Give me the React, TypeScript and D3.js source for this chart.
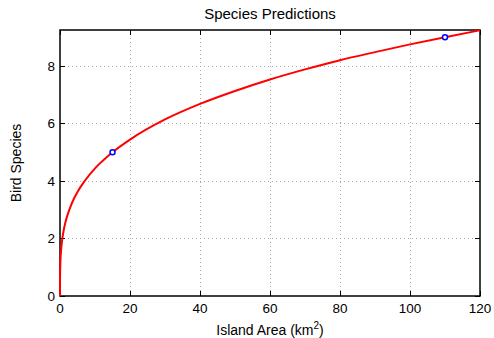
import React, { useRef, useEffect } from 'react';
import * as d3 from 'd3';

// curve (area km^2 -> species)
const areaValues = [0, 0.001, 0.01, 0.02, 0.1, 0.2, 0.5, 1, 1.5, 2, 3, 4, 5, 7, 10, 12, 15, 20, 30, 40, 50, 60, 70, 80, 90, 100, 110, 120];
const speciesValues = [0, 0.29, 0.58, 0.71, 1.14, 1.4, 1.83, 2.25, 2.54, 2.76, 3.11, 3.39, 3.62, 3.99, 4.44, 4.68, 5.0, 5.44, 6.14, 6.68, 7.13, 7.53, 7.88, 8.2, 8.48, 8.75, 9.0, 9.24];

// observed islands
const obsArea = [15, 110];
const obsSpecies = [5, 9];

const xTicks = [0, 20, 40, 60, 80, 100, 120];
const yTicks = [0, 2, 4, 6, 8];

const W = 494;
const H = 338;
const margin = { top: 30, right: 14, bottom: 42, left: 60 };
const FONT = 'Liberation Sans, Arial, Helvetica, sans-serif';

const App = () => {
  const svgRef = useRef(null);

  useEffect(() => {
    const svg = d3.select(svgRef.current);
    svg.selectAll('*').remove();
    const width = W - margin.left - margin.right;
    const height = H - margin.top - margin.bottom;

    const x = d3.scaleLinear().domain([0, 120]).range([0, width]);
    const y = d3.scaleLinear().domain([0, 9.25]).range([height, 0]);

    const g = svg.append('g').attr('transform', `translate(${margin.left},${margin.top})`);

    // grid
    g.selectAll('.xgrid')
      .data(xTicks.slice(1, -1))
      .join('line')
        .attr('x1', (d) => x(d) + 0.5)
        .attr('x2', (d) => x(d) + 0.5)
        .attr('y1', 0)
        .attr('y2', height)
        .attr('stroke', '#aaa')
        .attr('stroke-width', 1)
        .attr('stroke-dasharray', '1,3');
    g.selectAll('.ygrid')
      .data(yTicks.slice(1))
      .join('line')
        .attr('y1', (d) => Math.round(y(d)) + 0.5)
        .attr('y2', (d) => Math.round(y(d)) + 0.5)
        .attr('x1', 0)
        .attr('x2', width)
        .attr('stroke', '#aaa')
        .attr('stroke-width', 1)
        .attr('stroke-dasharray', '1,3');

    // inward ticks on all four sides
    const tl = 5;
    const ticks = g.append('g').attr('stroke', '#000').attr('stroke-width', 1);
    xTicks.forEach((t) => {
      const px = Math.round(x(t)) + 0.5;
      ticks.append('line').attr('x1', px).attr('x2', px).attr('y1', height).attr('y2', height - tl);
      ticks.append('line').attr('x1', px).attr('x2', px).attr('y1', 0).attr('y2', tl);
    });
    yTicks.forEach((t) => {
      const py = Math.round(y(t)) + 0.5;
      ticks.append('line').attr('x1', 0).attr('x2', tl).attr('y1', py).attr('y2', py);
      ticks.append('line').attr('x1', width).attr('x2', width - tl).attr('y1', py).attr('y2', py);
    });

    // frame
    g.append('rect')
      .attr('x', 0)
      .attr('y', 0)
      .attr('width', width)
      .attr('height', height)
      .attr('fill', 'none')
      .attr('stroke', '#000')
      .attr('stroke-width', 1.5);

    // tick labels
    g.selectAll('.xlab')
      .data(xTicks)
      .join('text')
        .attr('x', (d) => x(d))
        .attr('y', height + 17)
        .attr('text-anchor', 'middle')
        .attr('font-family', FONT)
        .attr('font-size', 13.5)
        .text((d) => d);
    g.selectAll('.ylab')
      .data(yTicks)
      .join('text')
        .attr('x', -5)
        .attr('y', (d) => y(d) + 5)
        .attr('text-anchor', 'end')
        .attr('font-family', FONT)
        .attr('font-size', 13.5)
        .text((d) => d);

    // curve
    const pts = areaValues.map((a, i) => [a, speciesValues[i]]);
    const line = d3.line().x((d) => x(d[0])).y((d) => y(d[1])).curve(d3.curveMonotoneX);
    g.append('path')
      .datum(pts)
      .attr('d', line)
      .attr('fill', 'none')
      .attr('stroke', '#ff0000')
      .attr('stroke-width', 2);

    // observations
    g.selectAll('.obs')
      .data(obsArea.map((a, i) => [a, obsSpecies[i]]))
      .join('circle')
        .attr('cx', (d) => x(d[0]))
        .attr('cy', (d) => y(d[1]))
        .attr('r', 2.5)
        .attr('fill', '#fff')
        .attr('stroke', '#0000ff')
        .attr('stroke-width', 1.5);

    // titles
    svg.append('text')
      .attr('x', margin.left + width / 2)
      .attr('y', 19)
      .attr('text-anchor', 'middle')
      .attr('font-family', FONT)
      .attr('font-size', 15)
      .text('Species Predictions');

    const xl = svg.append('text')
      .attr('x', margin.left + width / 2)
      .attr('y', 335)
      .attr('text-anchor', 'middle')
      .attr('font-family', FONT)
      .attr('font-size', 14);
    xl.append('tspan').text('Island Area (km');
    xl.append('tspan').attr('font-size', 10).attr('dy', -6).text('2');
    xl.append('tspan').attr('dy', 6).text(')');

    svg.append('text')
      .attr('transform', `translate(21,${margin.top + height / 2}) rotate(-90)`)
      .attr('text-anchor', 'middle')
      .attr('font-family', FONT)
      .attr('font-size', 14)
      .text('Bird Species');
  }, []);

  return (
    <svg
      ref={svgRef}
      width={W}
      height={H}
      style={{ position: 'absolute', left: 0, top: 0, background: '#fff' }}
    />
  );
};

export default App;
